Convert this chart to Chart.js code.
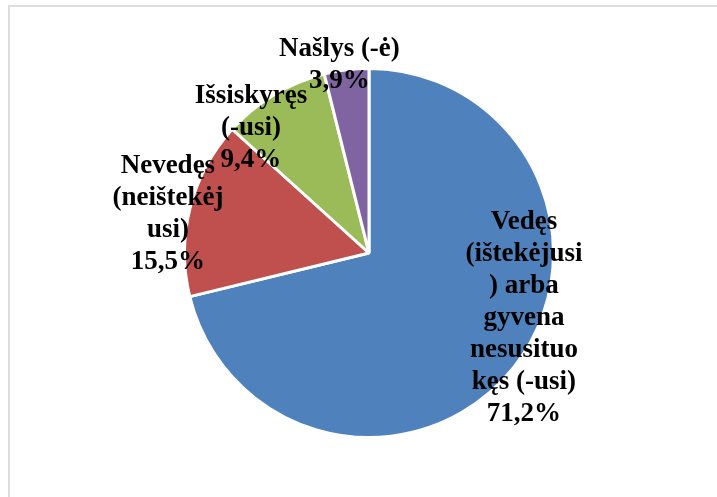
<!DOCTYPE html>
<html>
<head>
<meta charset="utf-8">
<script src="https://cdn.jsdelivr.net/npm/chart.js@4/dist/chart.umd.min.js"></script>
<style>
  body { margin: 0; background: #ffffff; overflow: hidden; }
  #frame { position: absolute; left: 8px; top: 5px; width: 800px; height: 600px;
           border-left: 2px solid #dedede; border-top: 2px solid #dedede; }
  #wrap { position: absolute; left: 0; top: 0; width: 717px; height: 497px; }
</style>
</head>
<body>
<div id="frame"></div>
<div id="wrap"><canvas id="pieChart" width="717" height="497"></canvas></div>
<script>
// Šeimyninė padėtis
const categories = [
    ['Vedęs', '(ištekėjusi', ') arba', 'gyvena', 'nesusituo', 'kęs (-usi)'],
    ['Nevedęs', '(neištekėj', 'usi)'],
    ['Išsiskyręs', '(-usi)'],
    ['Našlys (-ė)']
];
const values = [71.2, 15.5, 9.4, 3.9];
const colors = ['#4f81bd', '#c0504d', '#9bbb59', '#8064a2'];

// label block centres, in units of the pie radius from its centre
const labelDx = [0.84, -1.09, -0.64, -0.16];
const labelDy = [0.35, -0.21, -0.68, -1.02];

const labelPlugin = {
    id: 'pieLabels',
    afterDatasetsDraw(chart) {
        const ctx = chart.ctx;
        const meta = chart.getDatasetMeta(0);
        ctx.save();
        ctx.font = 'bold 27px "Liberation Serif", "Times New Roman", serif';
        ctx.fillStyle = '#000000';
        ctx.textAlign = 'center';
        ctx.textBaseline = 'middle';
        const lineH = 32;
        meta.data.forEach(function(arc, i) {
            const lines = categories[i].concat([values[i].toFixed(1).replace('.', ',') + '%']);
            const cx = arc.x + labelDx[i] * arc.outerRadius;
            const cy = arc.y + labelDy[i] * arc.outerRadius;
            const top = cy - (lines.length - 1) * lineH / 2;
            lines.forEach(function(t, k) {
                ctx.fillText(t, cx, top + k * lineH);
            });
        });
        ctx.restore();
    }
};

new Chart(document.getElementById('pieChart'), {
    type: 'pie',
    data: {
        labels: categories.map(function(c) { return c.join(' '); }),
        datasets: [{
            data: values,
            backgroundColor: colors,
            borderColor: '#ffffff',
            borderWidth: 3
        }]
    },
    options: {
        responsive: false,
        animation: false,
        layout: {
            padding: { left: 183, right: 162, top: 67, bottom: 58 }
        },
        plugins: {
            legend: { display: false },
            tooltip: { enabled: false }
        }
    },
    plugins: [labelPlugin]
});
</script>
</body>
</html>
